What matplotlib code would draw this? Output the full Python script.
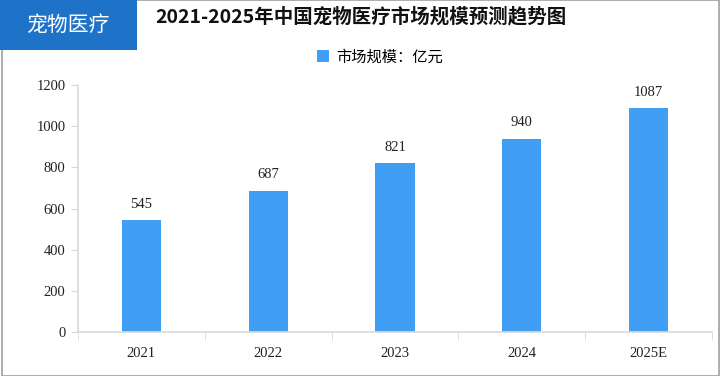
import matplotlib.pyplot as plt
from matplotlib.patches import Rectangle

plt.rcParams['font.family'] = ['Noto Sans CJK SC', 'DejaVu Sans']

# data
years = ["2021", "2022", "2023", "2024", "2025E"]
market_size = [545, 687, 821, 940, 1087]
y_ticks = [0, 200, 400, 600, 800, 1000, 1200]

bar_color = "#409ef5"
axis_color = "#d9d9d9"
num_font = ['Liberation Serif', 'DejaVu Serif']

fig = plt.figure(figsize=(7.22, 3.76), dpi=100)

# outer frame and the blue badge at the top left
fig.patches.append(Rectangle((0.003, 0.0), 0.993, 1.0, transform=fig.transFigure,
                             fill=False, edgecolor="#a0a0a0", linewidth=1.2))
fig.patches.append(Rectangle((0.0, 1 - 50 / 376), 137 / 722, 50 / 376, transform=fig.transFigure,
                             facecolor="#1e73c8", edgecolor="none"))
fig.text(68 / 722, 1 - 25 / 376, "宠物医疗", color="white", fontsize=15,
         ha="center", va="center")

# title
fig.text(361 / 722, 1 - 17 / 376, "2021-2025年中国宠物医疗市场规模预测趋势图",
         fontsize=14, fontweight="bold", ha="center", va="center", color="#111111")

ax = fig.add_axes([78 / 722, 1 - 332 / 376, 634 / 722, 247 / 376])
x = range(len(years))
bars = ax.bar(x, market_size, width=0.31, color=bar_color, label="市场规模：亿元")

# value labels above each bar
for i in range(len(market_size)):
    ax.text(i, market_size[i] + 45, str(market_size[i]), ha="center", va="bottom",
            fontsize=10.5, family=num_font, color="#222222")

ax.set_xlim(-0.5, len(years) - 0.5)
ax.set_ylim(0, 1200)
ax.set_yticks(y_ticks)
ax.set_yticklabels([str(v) for v in y_ticks], family=num_font, fontsize=10.5, color="#222222")
ax.set_xticks(list(x))
ax.set_xticklabels(years, family=num_font, fontsize=10.5, color="#222222")
ax.tick_params(axis="x", length=0, pad=11)
ax.tick_params(axis="y", length=5, color=axis_color, pad=4)

# category boundary ticks on the x axis
ax.set_xticks([i - 0.5 for i in range(len(years) + 1)], minor=True)
ax.tick_params(axis="x", which="minor", length=6, color=axis_color)

for side in ["top", "right"]:
    ax.spines[side].set_visible(False)
for side in ["left", "bottom"]:
    ax.spines[side].set_color(axis_color)
    ax.spines[side].set_linewidth(1.2)

# legend under the title
fig.legend(handles=[bars], labels=["市场规模：亿元"], loc="center",
           bbox_to_anchor=(380 / 722, 1 - 57 / 376), frameon=False, fontsize=11,
           handlelength=0.8, handleheight=0.8, handletextpad=0.5)

fig.savefig("out.png", dpi=100)
